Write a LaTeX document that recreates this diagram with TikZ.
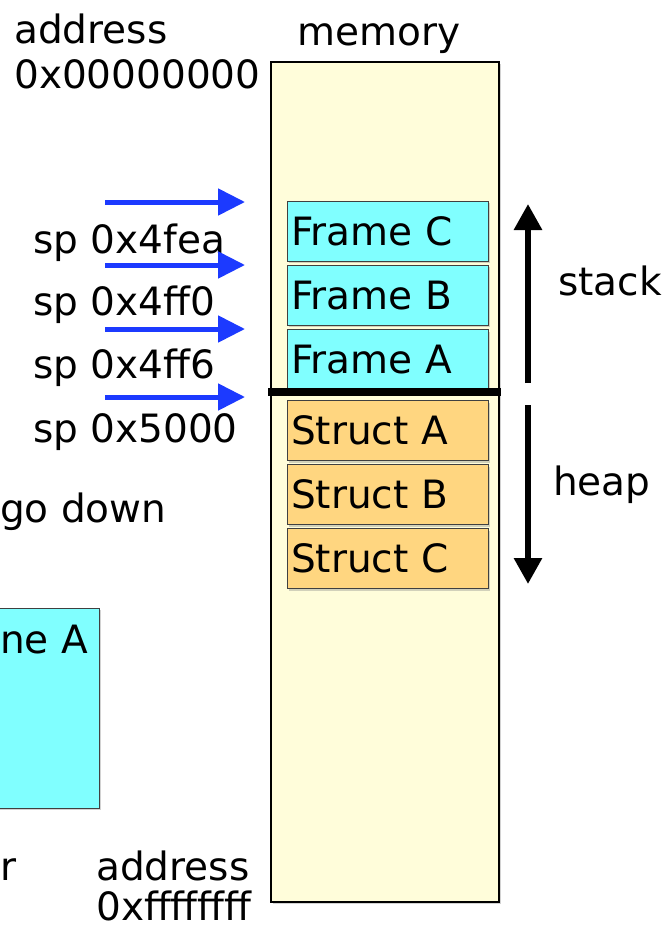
\documentclass[tikz,border=0pt]{standalone}
\usepackage{fontspec}
\setmainfont{DejaVu Sans}
\usetikzlibrary{arrows.meta, shadows}

\definecolor{memyellow}{RGB}{255,253,218}
\definecolor{framecyan}{RGB}{128,255,255}
\definecolor{structorange}{RGB}{255,214,128}
\definecolor{spblue}{RGB}{28,58,255}

\begin{document}
\begin{tikzpicture}[x=1pt, y=-1pt, font=\fontsize{39}{46}\selectfont,
    txt/.style={inner sep=0pt},
    slot/.style={draw=black!75, line width=1pt, inner xsep=4pt, inner ysep=0pt,
        text width=193pt, align=left, minimum height=60pt,
        text height=28pt, text depth=0pt,
        drop shadow={shadow xshift=1.5pt, shadow yshift=-2pt, opacity=0.35}},
    frameslot/.style={slot, fill=framecyan},
    structslot/.style={slot, fill=structorange},
    sparrow/.style={spblue, line width=5pt, -{Triangle[length=27pt, width=26pt]}},
    growarrow/.style={black, line width=6pt, -{Triangle[length=26pt, width=27pt]}}]
    \useasboundingbox (0,0) rectangle (664,929);
    \clip (0,0) rectangle (664,929);
    \fill[white] (0,0) rectangle (664,929);

    % memory column
    \node[draw, line width=2pt, fill=memyellow, minimum width=228pt, minimum height=840pt,
        drop shadow={shadow xshift=1.5pt, shadow yshift=-1.5pt, opacity=0.35}] (mem) at (385,482) {};
    \node[txt, anchor=base west] (memlabel) at (297,45) {memory};
    \node[txt, anchor=base west] (toplabel) at (14,43) {address};
    \node[txt, anchor=base west] (topaddr) at (14,88) {0x00000000};
    \node[txt, anchor=base west] (botlabel) at (96,880) {address};
    \node[txt, anchor=base west] (botaddr) at (96,920) {0xffffffff};

    % stack frames
    \node[frameslot] (frameC) at (387.5,231) {Frame C};
    \node[frameslot] (frameB) at (387.5,295) {Frame B};
    \node[frameslot] (frameA) at (387.5,359.5) {Frame A};

    % heap structs
    \node[structslot] (structA) at (387.5,430.5) {Struct A};
    \node[structslot] (structB) at (387.5,494.5) {Struct B};
    \node[structslot] (structC) at (387.5,558.5) {Struct C};

    % boundary between stack and heap
    \coordinate (barL) at (268,392);
    \coordinate (barR) at (501,392);
    \draw[line width=8pt] (barL) -- (barR);

    % stack pointer values
    \node[txt, anchor=base west] (sp1) at (33,253) {sp 0x4fea};
    \node[txt, anchor=base west] (sp2) at (33,315) {sp 0x4ff0};
    \node[txt, anchor=base west] (sp3) at (33,378) {sp 0x4ff6};
    \node[txt, anchor=base west] (sp4) at (33,442) {sp 0x5000};
    \foreach \y [count=\i] in {202,265,329,397} {
        \coordinate (spfrom\i) at (105,\y);
        \coordinate (spto\i) at (245,\y);
        \draw[sparrow] (spfrom\i) -- (spto\i);
    }

    % growth directions
    \coordinate (stackfrom) at (528,383);
    \coordinate (stackto) at (528,204);
    \coordinate (heapfrom) at (528,405);
    \coordinate (heapto) at (528,584);
    \draw[growarrow] (stackfrom) -- (stackto);
    \draw[growarrow] (heapfrom) -- (heapto);
    \node[txt, anchor=base west] (stacklabel) at (558,295) {stack};
    \node[txt, anchor=base west] (heaplabel) at (553,495) {heap};

    % left part of the slide
    \node[txt, anchor=base west] (godown) at (0,522) {go down};
    \node[draw=black!75, line width=1pt, fill=framecyan, minimum width=118pt, minimum height=200pt,
        drop shadow={shadow xshift=1.5pt, shadow yshift=-2pt, opacity=0.35}] (oldframe) at (40,708) {};
    \node[txt, anchor=base west] (oldframelabel) at (0,653) {ne A};
    \node[txt, anchor=base west] (leftr) at (0,880) {r};
\end{tikzpicture}
\end{document}
